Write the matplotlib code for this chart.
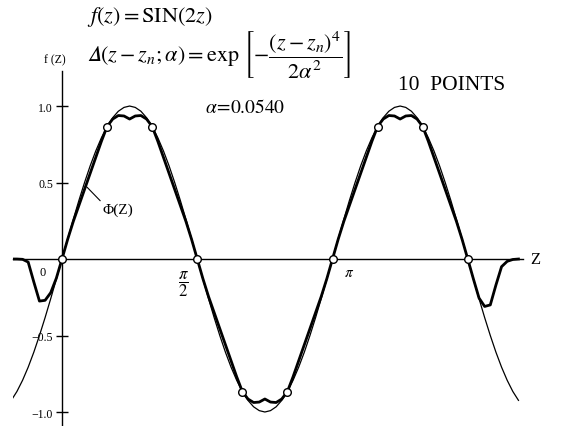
import numpy as np
import matplotlib
matplotlib.use('Agg')
import matplotlib.pyplot as plt

plt.rcParams['mathtext.fontset'] = 'stix'
plt.rcParams['font.family'] = ['Liberation Serif', 'DejaVu Serif']

# sampling grid (step pi/48) over which the two curves were read
z_grid = np.linspace(-9 * np.pi / 48, 81 * np.pi / 48, 91)

# f(z) = SIN(2z)
f_vals = [-0.924, -0.866, -0.793, -0.707, -0.609, -0.500, -0.383, -0.259, -0.131,
          0.0, 0.131, 0.259, 0.383, 0.500, 0.609, 0.707, 0.793, 0.866, 0.924, 0.966, 0.991,
          1.0, 0.991, 0.966, 0.924, 0.866, 0.793, 0.707, 0.609, 0.500, 0.383, 0.259, 0.131, 0.0,
          -0.131, -0.259, -0.383, -0.500, -0.609, -0.707, -0.793, -0.866, -0.924, -0.966, -0.991,
          -1.0, -0.991, -0.966, -0.924, -0.866, -0.793, -0.707, -0.609, -0.500, -0.383, -0.259, -0.131, 0.0,
          0.131, 0.259, 0.383, 0.500, 0.609, 0.707, 0.793, 0.866, 0.924, 0.966, 0.991,
          1.0, 0.991, 0.966, 0.924, 0.866, 0.793, 0.707, 0.609, 0.500, 0.383, 0.259, 0.131, 0.0,
          -0.131, -0.259, -0.383, -0.500, -0.609, -0.707, -0.793, -0.866, -0.924]

# Phi(Z)
phi_vals = [0.0, 0.0, -0.002, -0.02, -0.15, -0.275, -0.27, -0.22, -0.125,
            0.0, 0.128, 0.245, 0.35, 0.455, 0.56, 0.665, 0.77, 0.866,
            0.915, 0.938, 0.935, 0.915, 0.935, 0.938, 0.915, 0.866,
            0.77, 0.665, 0.56, 0.455, 0.35, 0.245, 0.128, 0.0,
            -0.128, -0.245, -0.35, -0.455, -0.56, -0.665, -0.77, -0.866,
            -0.915, -0.938, -0.935, -0.915, -0.935, -0.938, -0.915, -0.866,
            -0.77, -0.665, -0.56, -0.455, -0.35, -0.245, -0.128, 0.0,
            0.128, 0.245, 0.35, 0.455, 0.56, 0.665, 0.77, 0.866,
            0.915, 0.938, 0.935, 0.915, 0.935, 0.938, 0.915, 0.866,
            0.77, 0.665, 0.56, 0.455, 0.35, 0.245, 0.128, 0.0,
            -0.13, -0.255, -0.31, -0.30, -0.17, -0.05, -0.015, -0.003, 0.0]

# the 10 sample points
z_nodes = [0.0, 0.524, 1.047, 1.571, 2.094, 2.618, 3.142, 3.665, 4.189, 4.712]
f_nodes = [0.0, 0.866, 0.866, 0.0, -0.866, -0.866, 0.0, 0.866, 0.866, 0.0]

W, H = 565, 427
fig = plt.figure(figsize=(W / 100, H / 100), dpi=100)
ax = fig.add_axes([13 / W, 0, 510 / W, (H - 72) / H])
ax.set_xlim(-0.569, 5.354)
ax.set_ylim(-1.0915, 1.229)

ax.plot(z_grid, f_vals, color='black', lw=0.9, zorder=2)
ax.plot(z_grid, phi_vals, color='black', lw=2.0, zorder=3)
ax.plot(z_nodes, f_nodes, 'o', ms=5.5, mfc='white', mec='black', mew=1.0, zorder=5)

for s in ['top', 'right']:
    ax.spines[s].set_visible(False)
ax.spines['left'].set_position(('data', 0))
ax.spines['bottom'].set_position(('data', 0))
ax.spines['left'].set_linewidth(1.0)
ax.spines['bottom'].set_linewidth(1.0)
ax.set_xticks([])
ax.set_yticks([-1.0, -0.5, 0.5, 1.0])
ax.set_yticklabels(['\u22121.0', '\u22120.5', '0.5', '1.0'])
ax.tick_params(axis='y', direction='inout', length=9, width=1.0, labelsize=8.5, pad=2)

# axis labels
ax.text(-0.08, 1.305, 'f (Z)', fontsize=8.5, ha='center', va='center', clip_on=False)
ax.text(5.44, 0.0, 'Z', fontsize=12, ha='left', va='center', clip_on=False)
ax.text(-0.225, -0.085, '0', fontsize=9, ha='center', va='center')
ax.text(1.405, -0.16, r'$\dfrac{\pi}{2}$', fontsize=12, ha='center', va='center')
ax.text(3.33, -0.085, r'$\pi$', fontsize=11, ha='center', va='center')

ax.annotate('\u03a6(Z)', xy=(0.29, 0.47), xytext=(0.476, 0.327),
            fontsize=11, ha='left', va='center',
            arrowprops=dict(arrowstyle='-', lw=0.8, color='black',
                            shrinkA=0, shrinkB=0, relpos=(0, 0.9)))

# header formulas
fig.text(87 / W, 1 - 17 / H, r'$f(z)=\mathrm{SIN}(2z)$', fontsize=16,
         ha='left', va='center')
fig.text(87 / W, 1 - 55 / H,
         '$\U0001D6E5(z-z_n;\\alpha)=\\exp\\,\\left[-\\dfrac{(z-z_n)^4}{2\\alpha^2}\\right]$',
         fontsize=16, ha='left', va='center')
fig.text(398 / W, 1 - 86 / H, '10  POINTS', fontsize=15.5, ha='left', va='center')
fig.text(205 / W, 1 - 108 / H, r'$\alpha\!=\!0.0540$', fontsize=14, ha='left', va='center')

fig.savefig('out.png', dpi=100)
